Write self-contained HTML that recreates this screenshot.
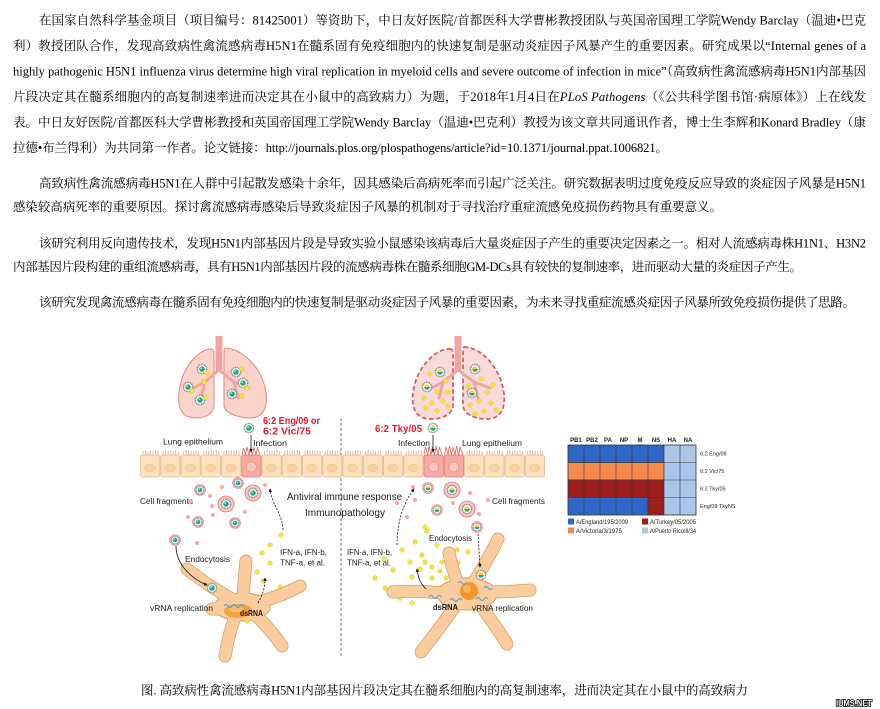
<!DOCTYPE html>
<html>
<head>
<meta charset="utf-8">
<style>
html,body{margin:0;padding:0;background:#fff;}
body{width:880px;height:709px;position:relative;overflow:hidden;}
svg{position:absolute;left:0;top:0;}
.t{font-family:"Liberation Serif","Noto Serif CJK SC",serif;font-size:12.5px;fill:#000;}
.l{font-family:"Liberation Sans",sans-serif;fill:#1a1a1a;}
.r{font-family:"Liberation Sans",sans-serif;fill:#e3192b;font-weight:bold;}
</style>
</head>
<body>
<svg width="880" height="709" viewBox="0 0 880 709" xmlns="http://www.w3.org/2000/svg">
<defs>
  <marker id="ah" viewBox="0 0 6 6" refX="5" refY="3" markerWidth="4.5" markerHeight="4.5" orient="auto">
    <path d="M0,0 L6,3 L0,6 Z" fill="#111"/>
  </marker>
  <g id="va">
    <circle r="4.6" fill="#fff" stroke="#7f7f7f" stroke-width="1.5" stroke-dasharray="1 0.7"/>
    <circle r="2.8" fill="#23a985"/>
    <circle cx="-0.9" cy="-0.9" r="0.8" fill="#c8fff0"/>
  </g>
  <g id="vb">
    <circle r="4.6" fill="#fff" stroke="#7f7f7f" stroke-width="1.5" stroke-dasharray="1 0.7"/>
    <path d="M-2.8,0 A2.8,2.8 0 0 1 2.8,0 Z" fill="#f3d33a"/>
    <path d="M-2.8,0 A2.8,2.8 0 0 0 2.8,0 Z" fill="#2aa98a"/>
  </g>
  <g id="yd"><circle r="2.3" fill="#f4e33a" stroke="#d8c11a" stroke-width="0.4"/></g>
  <g id="pd"><circle r="2.1" fill="#f2aaa8"/></g>
  <g id="fa"><circle r="8" fill="#f8c8c4" stroke="#df7373" stroke-width="0.8"/><use href="#va"/></g>
  <g id="fb"><circle r="8" fill="#f8c8c4" stroke="#df7373" stroke-width="0.8"/><use href="#vb"/></g>
  <g id="ra"><circle r="5.5" fill="#f6c3c0" stroke="#e08080" stroke-width="0.6"/><use href="#va" transform="scale(0.85)"/></g>
  <g id="rb"><circle r="5.5" fill="#f6c3c0" stroke="#e08080" stroke-width="0.6"/><use href="#vb" transform="scale(0.85)"/></g>
  <pattern id="epi" patternUnits="userSpaceOnUse" x="140" y="449" width="20.25" height="30">
    <g stroke="#c5a483" stroke-width="0.7">
      <line x1="3" y1="2" x2="3" y2="6"/><line x1="5.5" y1="1" x2="5.5" y2="6"/>
      <line x1="8" y1="2" x2="8" y2="6"/><line x1="10.5" y1="1.5" x2="10.5" y2="6"/>
      <line x1="13" y1="2" x2="13" y2="6"/><line x1="15.5" y1="1" x2="15.5" y2="6"/>
      <line x1="18" y1="2" x2="18" y2="6"/>
    </g>
    <rect x="0.5" y="6" width="19.25" height="22" rx="2" fill="#fde1bd" stroke="#e3b98d" stroke-width="0.8"/>
    <ellipse cx="10" cy="19" rx="5" ry="4" fill="#f9d2a4" stroke="#efbd8a" stroke-width="0.5"/>
  </pattern>
</defs>

<!-- ========== TEXT ========== -->
<g class="t">
<text x="39" y="24.5" textLength="827" lengthAdjust="spacing">在国家自然科学基金项目（项目编号：81425001）等资助下，中日友好医院/首都医科大学曹彬教授团队与英国帝国理工学院Wendy Barclay（温迪•巴克</text>
<text x="13" y="50" textLength="853" lengthAdjust="spacing">利）教授团队合作，发现高致病性禽流感病毒H5N1在髓系固有免疫细胞内的快速复制是驱动炎症因子风暴产生的重要因素。研究成果以“Internal genes of a</text>
<text x="13" y="75.5" textLength="853" lengthAdjust="spacing">highly pathogenic H5N1 influenza virus determine high viral replication in myeloid cells and severe outcome of infection in mice”（高致病性禽流感病毒H5N1内部基因</text>
<text x="13" y="101" textLength="853" lengthAdjust="spacing">片段决定其在髓系细胞内的高复制速率进而决定其在小鼠中的高致病力）为题，于2018年1月4日在<tspan font-style="italic">PLoS Pathogens</tspan>（《公共科学图书馆·病原体》）上在线发</text>
<text x="13" y="126.5" textLength="853" lengthAdjust="spacing">表。中日友好医院/首都医科大学曹彬教授和英国帝国理工学院Wendy Barclay（温迪•巴克利）教授为该文章共同通讯作者，博士生李辉和Konard Bradley（康</text>
<text x="13" y="152" textLength="655" lengthAdjust="spacing">拉德•布兰得利）为共同第一作者。论文链接：http://journals.plos.org/plospathogens/article?id=10.1371/journal.ppat.1006821。</text>

<text x="39" y="187.5" textLength="827" lengthAdjust="spacing">高致病性禽流感病毒H5N1在人群中引起散发感染十余年，因其感染后高病死率而引起广泛关注。研究数据表明过度免疫反应导致的炎症因子风暴是H5N1</text>
<text x="13" y="211" textLength="709" lengthAdjust="spacing">感染较高病死率的重要原因。探讨禽流感病毒感染后导致炎症因子风暴的机制对于寻找治疗重症流感免疫损伤药物具有重要意义。</text>

<text x="39" y="247.5" textLength="827" lengthAdjust="spacing">该研究利用反向遗传技术，发现H5N1内部基因片段是导致实验小鼠感染该病毒后大量炎症因子产生的重要决定因素之一。相对人流感病毒株H1N1、H3N2</text>
<text x="13" y="271" textLength="789" lengthAdjust="spacing">内部基因片段构建的重组流感病毒，具有H5N1内部基因片段的流感病毒株在髓系细胞GM-DCs具有较快的复制速率，进而驱动大量的炎症因子产生。</text>

<text x="39" y="306.5" textLength="816" lengthAdjust="spacing">该研究发现禽流感病毒在髓系固有免疫细胞内的快速复制是驱动炎症因子风暴的重要因素，为未来寻找重症流感炎症因子风暴所致免疫损伤提供了思路。</text>

<text x="141" y="694.5" textLength="607" lengthAdjust="spacing">图. 高致病性禽流感病毒H5N1内部基因片段决定其在髓系细胞内的高复制速率，进而决定其在小鼠中的高致病力</text>
</g>

<!-- watermark -->
<text x="836" y="706" font-family="Liberation Sans, sans-serif" font-size="8.5" font-weight="bold" fill="#fff" stroke="#000" stroke-width="1.6" paint-order="stroke" textLength="36" lengthAdjust="spacingAndGlyphs">IUMS.NET</text>

<!-- ========== FIGURE ========== -->
<!-- left lung (healthy) -->
<g>
  <path d="M212,349 C200,348 182,366 179,392 C177,410 183,418 196,418 C207,418 213,413 214,406 L214,362 C214,354 214,349 212,349 Z" fill="#fad3ca" stroke="#df8a7e" stroke-width="1"/>
  <path d="M225,348 C240,348 262,366 266,392 C268,410 262,418 250,418 C238,418 225,413 224,406 L224,362 C224,354 224,348 225,348 Z" fill="#fad3ca" stroke="#df8a7e" stroke-width="1"/>
  <rect x="215.5" y="336" width="7" height="36" fill="#f4a4a0"/>
  <g stroke="#f4a4a0" stroke-width="3" fill="none" stroke-linecap="round">
    <path d="M219,370 L205,382 L190,390"/><path d="M205,382 L201,398"/>
    <path d="M219,370 L234,382 L249,388"/><path d="M234,382 L238,398"/>
  </g>
  <use href="#va" x="202" y="369"/><use href="#va" x="236" y="372"/>
  <use href="#va" x="188" y="387"/><use href="#va" x="243" y="383"/>
  <use href="#va" x="200" y="400"/><use href="#va" x="232" y="394"/>
  <use href="#yd" x="207" y="373"/><use href="#yd" x="204" y="382"/>
  <use href="#yd" x="242" y="369"/><use href="#yd" x="247" y="388"/>
  <use href="#yd" x="242" y="396"/><use href="#yd" x="206" y="397"/>
  <use href="#yd" x="192" y="391"/>
</g>

<!-- right lung (severe) -->
<g>
  <path d="M451,349 C438,347 416,366 413,393 C411,411 418,419 431,419 C443,419 452,414 453,406 L453,362 C453,354 453,349 451,349 Z" fill="#f9dada" stroke="#d9605a" stroke-width="1.8" stroke-dasharray="4.5 2.5"/>
  <path d="M464,347 C480,347 500,366 504,393 C506,411 499,419 487,419 C474,419 464,414 463,406 L463,362 C463,354 463,347 464,347 Z" fill="#f9dada" stroke="#d9605a" stroke-width="1.8" stroke-dasharray="4.5 2.5"/>
  <rect x="454.5" y="336" width="7" height="36" fill="#f4a4a0"/>
  <g stroke="#f4a4a0" stroke-width="3" fill="none" stroke-linecap="round">
    <path d="M458,370 L443,382 L428,390"/><path d="M443,382 L439,398"/>
    <path d="M458,370 L474,382 L490,388"/><path d="M474,382 L478,398"/>
  </g>
  <use href="#yd" x="430" y="374"/><use href="#yd" x="446" y="381"/><use href="#yd" x="437" y="392"/>
  <use href="#yd" x="448" y="392"/><use href="#yd" x="443" y="401"/><use href="#yd" x="432" y="403"/>
  <use href="#yd" x="448" y="406"/><use href="#yd" x="424" y="398"/><use href="#yd" x="437" y="411"/>
  <use href="#yd" x="481" y="379"/><use href="#yd" x="487" y="392"/><use href="#yd" x="479" y="401"/>
  <use href="#yd" x="491" y="403"/><use href="#yd" x="470" y="405"/><use href="#yd" x="484" y="411"/>
  <use href="#yd" x="475" y="414"/><use href="#yd" x="493" y="385"/><use href="#yd" x="468" y="386"/>
  <use href="#yd" x="426" y="408"/><use href="#yd" x="496" y="410"/>
  <use href="#vb" x="440" y="372"/><use href="#vb" x="427" y="387"/>
  <use href="#vb" x="475" y="369"/><use href="#vb" x="472" y="393"/>
</g>

<!-- dashed divider -->
<line x1="341" y1="418" x2="341" y2="656" stroke="#555" stroke-width="0.8" stroke-dasharray="3 2"/>

<!-- epithelium -->
<rect x="140" y="449" width="405" height="30" fill="url(#epi)"/>
<g>
  <rect x="241.25" y="449" width="20.25" height="30" fill="#fff"/>
  <rect x="241.75" y="455" width="19.25" height="22" rx="2" fill="#f5aaa2" stroke="#df7b72" stroke-width="0.8"/>
  <circle cx="251.4" cy="467" r="5" fill="#f9c5bd" stroke="#e08a80" stroke-width="0.6"/>
  <path d="M242,455 L243.5,448 L245.5,455 L247,447 L249,455 L250.5,448 L252.5,455 L254,447 L256,455 L257.5,448 L260,455" stroke="#e3635f" stroke-width="0.8" fill="none"/>
  <rect x="423.5" y="449" width="40.5" height="30" fill="#fff"/>
  <rect x="424" y="455" width="19.25" height="22" rx="2" fill="#f5aaa2" stroke="#df7b72" stroke-width="0.8"/>
  <rect x="444.25" y="455" width="19.25" height="22" rx="2" fill="#f5aaa2" stroke="#df7b72" stroke-width="0.8"/>
  <circle cx="433.6" cy="467" r="5" fill="#f9c5bd" stroke="#e08a80" stroke-width="0.6"/>
  <circle cx="453.9" cy="467" r="5" fill="#f9c5bd" stroke="#e08a80" stroke-width="0.6"/>
  <path d="M424,455 L425.5,447 L427.5,455 L429,446 L431,455 L432.5,447 L434.5,455 L436,446 L438,455 L439.5,447 L442,455 M444.5,455 L446,447 L448,455 L449.5,446 L451.5,455 L453,447 L455,455 L456.5,446 L458.5,455 L460,447 L463,455" stroke="#e3635f" stroke-width="0.8" fill="none"/>
</g>

<!-- infection icons & arrows -->
<use href="#va" x="249" y="428"/>
<line x1="251" y1="435" x2="251" y2="452" stroke="#111" stroke-width="0.8" marker-end="url(#ah)"/>
<use href="#vb" x="433" y="428"/>
<line x1="433" y1="435" x2="433" y2="452" stroke="#111" stroke-width="0.8" marker-end="url(#ah)"/>

<!-- red labels -->
<text class="r" x="263" y="424" font-size="10" textLength="57" lengthAdjust="spacingAndGlyphs">6:2 Eng/09 or</text>
<text class="r" x="263" y="434.5" font-size="10" textLength="48" lengthAdjust="spacingAndGlyphs">6:2 Vic/75</text>
<text class="r" x="375" y="432" font-size="10" textLength="47" lengthAdjust="spacingAndGlyphs">6:2 Tky/05</text>

<!-- labels -->
<g class="l">
  <text x="253" y="446" font-size="8" textLength="34" lengthAdjust="spacingAndGlyphs">Infection</text>
  <text x="398" y="446" font-size="8" textLength="32" lengthAdjust="spacingAndGlyphs">Infection</text>
  <text x="163" y="444.5" font-size="8" textLength="60" lengthAdjust="spacingAndGlyphs">Lung epithelium</text>
  <text x="462" y="446" font-size="8" textLength="60" lengthAdjust="spacingAndGlyphs">Lung epithelium</text>
  <text x="140" y="504" font-size="8" textLength="53" lengthAdjust="spacingAndGlyphs">Cell fragments</text>
  <text x="492" y="504" font-size="8" textLength="53" lengthAdjust="spacingAndGlyphs">Cell fragments</text>
  <text x="287" y="500" font-size="10" textLength="115" lengthAdjust="spacingAndGlyphs">Antiviral immune response</text>
  <text x="305" y="516" font-size="10" textLength="80" lengthAdjust="spacingAndGlyphs">Immunopathology</text>
  <text x="185" y="562" font-size="8" textLength="45" lengthAdjust="spacingAndGlyphs">Endocytosis</text>
  <text x="429" y="541" font-size="8" textLength="43" lengthAdjust="spacingAndGlyphs">Endocytosis</text>
  <text x="280" y="555" font-size="8" textLength="47" lengthAdjust="spacingAndGlyphs">IFN-a, IFN-b,</text>
  <text x="280" y="565.5" font-size="8" textLength="45" lengthAdjust="spacingAndGlyphs">TNF-a, et al.</text>
  <text x="347" y="555" font-size="8" textLength="45" lengthAdjust="spacingAndGlyphs">IFN-a, IFN-b,</text>
  <text x="347" y="565.5" font-size="8" textLength="44" lengthAdjust="spacingAndGlyphs">TNF-a, et al.</text>
</g>

<!-- cell fragments left -->
<use href="#fa" x="253" y="493"/><use href="#fa" x="226" y="504"/>
<use href="#ra" x="238" y="483"/><use href="#ra" x="200" y="490"/>
<use href="#ra" x="198" y="522"/><use href="#ra" x="235" y="523"/>
<use href="#ra" x="175" y="540"/>
<use href="#pd" x="210" y="496"/><use href="#pd" x="212" y="506"/><use href="#pd" x="213" y="515"/>
<use href="#pd" x="188" y="517"/><use href="#pd" x="197" y="543"/><use href="#pd" x="265" y="485"/>
<use href="#pd" x="190" y="502"/><use href="#pd" x="245" y="512"/><use href="#pd" x="222" y="487"/>

<!-- cell fragments right -->
<use href="#fb" x="452" y="490"/><use href="#fb" x="467" y="509"/>
<use href="#rb" x="428" y="488"/><use href="#rb" x="437" y="510"/>
<use href="#rb" x="477" y="527"/>
<use href="#pd" x="413" y="487"/><use href="#pd" x="407" y="517"/><use href="#pd" x="453" y="503"/>
<use href="#pd" x="470" y="493"/><use href="#pd" x="479" y="514"/><use href="#pd" x="397" y="503"/>
<use href="#pd" x="415" y="500"/><use href="#pd" x="488" y="500"/>

<!-- yellow cytokines left -->
<use href="#yd" x="281" y="535"/><use href="#yd" x="262" y="553"/><use href="#yd" x="270" y="563"/>
<use href="#yd" x="257" y="572"/><use href="#yd" x="263" y="581"/><use href="#yd" x="280" y="587"/>
<use href="#yd" x="270" y="545"/>

<!-- yellow cytokines right -->
<use href="#yd" x="425" y="527"/><use href="#yd" x="415" y="542"/><use href="#yd" x="402" y="550"/>
<use href="#yd" x="422" y="555"/><use href="#yd" x="393" y="570"/><use href="#yd" x="410" y="562"/>
<use href="#yd" x="375" y="578"/><use href="#yd" x="385" y="588"/><use href="#yd" x="402" y="588"/>
<use href="#yd" x="437" y="545"/><use href="#yd" x="427" y="531"/><use href="#yd" x="412" y="577"/>
<use href="#yd" x="425" y="562"/><use href="#yd" x="420" y="569"/><use href="#yd" x="432" y="567"/>
<use href="#yd" x="440" y="571"/><use href="#yd" x="442" y="562"/><use href="#yd" x="432" y="578"/>
<use href="#yd" x="457" y="550"/><use href="#yd" x="468" y="552"/><use href="#yd" x="458" y="563"/>
<use href="#yd" x="490" y="558"/><use href="#yd" x="400" y="598"/><use href="#yd" x="412" y="603"/>
<use href="#yd" x="446" y="578"/><use href="#yd" x="384" y="559"/>

<!-- left dendritic cell -->
<g stroke-linecap="round" fill="none">
  <g stroke="#d59c66" stroke-width="13">
    <path d="M238,602 Q214,590 187,569"/>
    <path d="M243,600 Q244,580 246,561"/>
    <path d="M250,604 Q278,598 300,586"/>
    <path d="M252,612 Q270,628 282,646"/>
    <path d="M236,614 Q228,636 225,656"/>
    <path d="M232,609 L212,609"/>
  </g>
  <ellipse cx="242" cy="607" rx="28" ry="14" fill="#fbcd9e" stroke="#d59c66" stroke-width="1"/>
  <g stroke="#fbcd9e" stroke-width="11.5">
    <path d="M238,602 Q214,590 187,569"/>
    <path d="M243,600 Q244,580 246,561"/>
    <path d="M250,604 Q278,598 300,586"/>
    <path d="M252,612 Q270,628 282,646"/>
    <path d="M236,614 Q228,636 225,656"/>
    <path d="M232,609 L212,609"/>
  </g>
  <ellipse cx="242" cy="607" rx="27" ry="13" fill="#fbcd9e"/>
</g>
<ellipse cx="238" cy="611" rx="14" ry="7" fill="#f4a03f"/>
<ellipse cx="236" cy="609" rx="7" ry="3.5" fill="#f8bd6a"/>
<path d="M224,606 q2,-3 4,0 t4,0 t4,0 t4,0 t4,0" stroke="#5c9fd6" stroke-width="1.2" fill="none"/>
<use href="#yd" x="247" y="621"/>
<use href="#va" x="212" y="588"/>
<text class="l" x="240" y="616" font-size="8.5" font-weight="bold" textLength="23" lengthAdjust="spacingAndGlyphs">dsRNA</text>
<text class="l" x="150" y="611" font-size="8" textLength="63" lengthAdjust="spacingAndGlyphs">vRNA replication</text>

<!-- right dendritic cell -->
<g stroke-linecap="round" fill="none">
  <g stroke="#d59c66" stroke-width="13">
    <path d="M460,588 Q452,570 449,553"/>
    <path d="M472,585 Q488,560 498,539"/>
    <path d="M485,592 Q510,592 530,590"/>
    <path d="M478,602 Q495,625 507,644"/>
    <path d="M458,602 Q440,628 421,652"/>
    <path d="M450,594 Q420,590 393,592"/>
  </g>
  <ellipse cx="467" cy="594" rx="30" ry="16" fill="#fbcd9e" stroke="#d59c66" stroke-width="1"/>
  <g stroke="#fbcd9e" stroke-width="11.5">
    <path d="M460,588 Q452,570 449,553"/>
    <path d="M472,585 Q488,560 498,539"/>
    <path d="M485,592 Q510,592 530,590"/>
    <path d="M478,602 Q495,625 507,644"/>
    <path d="M458,602 Q440,628 421,652"/>
    <path d="M450,594 Q420,590 393,592"/>
  </g>
  <ellipse cx="467" cy="594" rx="29" ry="15" fill="#fbcd9e"/>
</g>
<ellipse cx="469" cy="591" rx="9" ry="9" fill="#f5952b"/>
<ellipse cx="467" cy="589" rx="4" ry="4" fill="#f8b45c"/>
<g stroke="#5c9fd6" stroke-width="1.2" fill="none">
  <path d="M429,597 q2,-3 4,0 t4,0 t4,0"/>
  <path d="M450,600 q2,-3 4,0 t4,0 t4,0"/>
  <path d="M476,599 q2,-3 4,0 t4,0 t4,0"/>
  <path d="M458,583 q2,-3 4,0 t4,0"/>
  <path d="M484,588 q2,-3 4,0 t4,0"/>
</g>
<use href="#vb" x="481" y="575"/>
<text class="l" x="433" y="610" font-size="8.5" font-weight="bold" textLength="25" lengthAdjust="spacingAndGlyphs">dsRNA</text>
<text class="l" x="472" y="611" font-size="8" textLength="61" lengthAdjust="spacingAndGlyphs">vRNA replication</text>

<!-- arrows -->
<g fill="none" stroke="#111" stroke-width="0.8">
  <path d="M176,546 C176,566 194,580 207,585" marker-end="url(#ah)"/>
  <path d="M258,603 C262,596 265,589 265,578" stroke-dasharray="2 1.5" marker-end="url(#ah)"/>
  <path d="M283,530 C283,515 272,505 270,489" stroke-dasharray="2 1.5" marker-end="url(#ah)"/>
  <path d="M397,545 C397,520 405,500 414,489" stroke-dasharray="2 1.5" marker-end="url(#ah)"/>
  <path d="M478,534 L480,567" stroke-dasharray="2 1.5" marker-end="url(#ah)"/>
  <path d="M426,589 C420,583 418,577 417,569" marker-end="url(#ah)"/>
</g>

<!-- heatmap -->
<g font-family="Liberation Sans, sans-serif" font-size="6" font-weight="bold" fill="#222" text-anchor="middle">
  <text x="576" y="442">PB1</text><text x="592" y="442">PB2</text><text x="608" y="442">PA</text>
  <text x="624" y="442">NP</text><text x="640" y="442">M</text><text x="656" y="442">NS</text>
  <text x="672" y="442">HA</text><text x="688" y="442">NA</text>
</g>
<g stroke="#3a3a3a" stroke-width="0.6">
  <rect x="568" y="445" width="96" height="17.5" fill="#2e67c7"/>
  <rect x="568" y="462.5" width="96" height="17.5" fill="#f5894f"/>
  <rect x="568" y="480" width="96" height="17.5" fill="#9c1d1c"/>
  <rect x="568" y="497.5" width="80" height="17.5" fill="#2e67c7"/>
  <rect x="648" y="497.5" width="16" height="17.5" fill="#9c1d1c"/>
  <rect x="664" y="445" width="32" height="70" fill="#a9c6e8"/>
  <g fill="none">
    <line x1="584" y1="445" x2="584" y2="515"/><line x1="600" y1="445" x2="600" y2="515"/>
    <line x1="616" y1="445" x2="616" y2="515"/><line x1="632" y1="445" x2="632" y2="515"/>
    <line x1="648" y1="445" x2="648" y2="515"/><line x1="680" y1="445" x2="680" y2="515"/>
    <line x1="568" y1="462.5" x2="696" y2="462.5"/><line x1="568" y1="480" x2="696" y2="480"/>
    <line x1="568" y1="497.5" x2="696" y2="497.5"/>
    <rect x="568" y="445" width="128" height="70"/>
  </g>
</g>
<g font-family="Liberation Sans, sans-serif" font-size="5.5" fill="#222">
  <text x="700" y="455.5">6:2 Eng/09</text>
  <text x="700" y="473">6:2 Vic/75</text>
  <text x="700" y="490.5">6:2 Tky/05</text>
  <text x="700" y="508">Eng/09:TkyNS</text>
</g>
<g font-family="Liberation Sans, sans-serif" font-size="6" fill="#222">
  <rect x="568" y="518.5" width="6" height="6" fill="#2e67c7"/>
  <text x="576" y="524" textLength="52" lengthAdjust="spacingAndGlyphs">A/England/195/2009</text>
  <rect x="642" y="518.5" width="6" height="6" fill="#9c1d1c"/>
  <text x="650" y="524" textLength="46" lengthAdjust="spacingAndGlyphs">A/Turkey/05/2005</text>
  <rect x="568" y="527.5" width="6" height="6" fill="#f5894f"/>
  <text x="576" y="533" textLength="46" lengthAdjust="spacingAndGlyphs">A/Victoria/3/1975</text>
  <rect x="642" y="527.5" width="6" height="6" fill="#a9c6e8"/>
  <text x="650" y="533" textLength="46" lengthAdjust="spacingAndGlyphs">A/Puerto Rico/8/34</text>
</g>
</svg>
</body>
</html>
